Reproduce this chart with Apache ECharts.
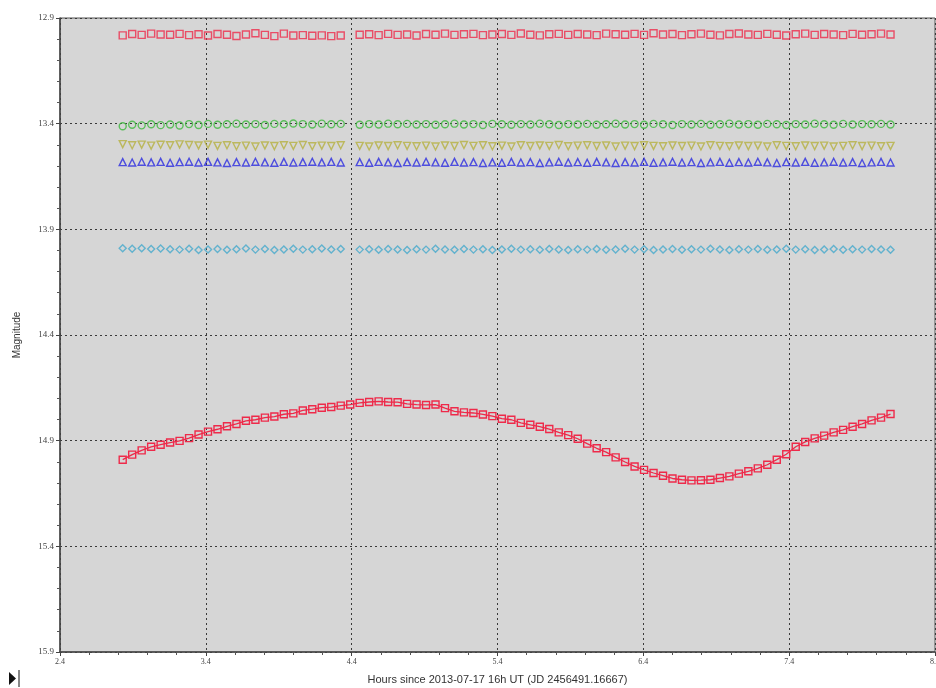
<!DOCTYPE html>
<html>
<head>
<meta charset="utf-8">
<script src="https://cdn.jsdelivr.net/npm/echarts@6/dist/echarts.min.js"></script>
<style>
  html, body { margin: 0; padding: 0; background: #ffffff; overflow: hidden; }
  #chart { width: 936px; height: 688px; }
</style>
</head>
<body>
<div id="chart"></div>
<script>
// Observation times, hours since 2013-07-17 16h UT
const hours = [
  2.83, 2.895, 2.96, 3.025, 3.09, 3.155, 3.22, 3.285, 3.35, 3.415,
  3.48, 3.545, 3.61, 3.675, 3.74, 3.805, 3.87, 3.935, 4.0, 4.065,
  4.13, 4.195, 4.26, 4.325, 4.39, 4.455, 4.52, 4.585, 4.65, 4.715,
  4.78, 4.845, 4.91, 4.975, 5.04, 5.105, 5.17, 5.235, 5.3, 5.365,
  5.43, 5.495, 5.56, 5.625, 5.69, 5.755, 5.82, 5.885, 5.95, 6.015,
  6.08, 6.145, 6.21, 6.275, 6.34, 6.405, 6.47, 6.535, 6.6, 6.665,
  6.73, 6.795, 6.86, 6.925, 6.99, 7.055, 7.12, 7.185, 7.25, 7.315,
  7.38, 7.445, 7.51, 7.575, 7.64, 7.705, 7.77, 7.835, 7.9, 7.965,
  8.03, 8.095
];

// Variable star magnitudes
const targetMag = [
  14.990, 14.966, 14.946, 14.929, 14.919, 14.909, 14.901, 14.888, 14.871, 14.857,
  14.846, 14.832, 14.821, 14.806, 14.801, 14.791, 14.786, 14.775, 14.771, 14.757,
  14.751, 14.744, 14.741, 14.734, 14.729, 14.721, 14.717, 14.714, 14.717, 14.718,
  14.726, 14.729, 14.731, 14.729, 14.746, 14.761, 14.766, 14.769, 14.776, 14.784,
  14.796, 14.801, 14.816, 14.825, 14.834, 14.845, 14.861, 14.874, 14.891, 14.914,
  14.936, 14.954, 14.979, 15.001, 15.022, 15.038, 15.053, 15.066, 15.079, 15.085,
  15.088, 15.087, 15.085, 15.077, 15.069, 15.056, 15.045, 15.031, 15.014, 14.990,
  14.964, 14.929, 14.906, 14.889, 14.876, 14.861, 14.849, 14.834, 14.821, 14.804,
  14.791, 14.774
];

// Comparison stars (null = no measurement)
const comp1Mag = [
  12.982, 12.976, 12.980, 12.974, 12.978, 12.979, 12.975, 12.981, 12.977, 12.983,
  12.976, 12.979, 12.985, 12.978, 12.972, 12.980, 12.986, 12.974, 12.983, 12.981,
  12.984, 12.982, 12.986, 12.983, null, 12.979, 12.977, 12.981, 12.975, 12.980,
  12.978, 12.983, 12.976, 12.979, 12.974, 12.980, 12.977, 12.975, 12.981, 12.978,
  12.976, 12.980, 12.973, 12.979, 12.982, 12.977, 12.975, 12.980, 12.976, 12.978,
  12.981, 12.974, 12.977, 12.979, 12.975, 12.980, 12.972, 12.978, 12.976, 12.981,
  12.977, 12.974, 12.979, 12.982, 12.976, 12.973, 12.978, 12.980, 12.975, 12.979,
  12.983, 12.977, 12.974, 12.980, 12.976, 12.978, 12.981, 12.975, 12.979, 12.977,
  12.974, 12.978
];
const comp2Mag = [
  13.412, 13.405, 13.408, 13.403, 13.407, 13.404, 13.409, 13.402, 13.406, 13.401,
  13.405, 13.403, 13.400, 13.404, 13.402, 13.406, 13.401, 13.403, 13.399, 13.402,
  13.404, 13.400, 13.403, 13.401, null, 13.405, 13.402, 13.404, 13.400, 13.403,
  13.401, 13.404, 13.402, 13.405, 13.403, 13.400, 13.404, 13.402, 13.406, 13.401,
  13.403, 13.405, 13.402, 13.404, 13.400, 13.403, 13.406, 13.402, 13.404, 13.401,
  13.405, 13.403, 13.400, 13.404, 13.402, 13.405, 13.401, 13.403, 13.406, 13.402,
  13.404, 13.401, 13.405, 13.403, 13.400, 13.404, 13.402, 13.405, 13.401, 13.403,
  13.406, 13.402, 13.404, 13.400, 13.403, 13.405, 13.401, 13.404, 13.402, 13.403,
  13.401, 13.404
];
const comp3Mag = [
  13.497, 13.502, 13.499, 13.504, 13.500, 13.502, 13.498, 13.501, 13.503, 13.499,
  13.505, 13.502, 13.507, 13.504, 13.508, 13.503, 13.506, 13.502, 13.505, 13.501,
  13.507, 13.504, 13.506, 13.502, null, 13.505, 13.508, 13.503, 13.506, 13.502,
  13.505, 13.507, 13.504, 13.508, 13.503, 13.506, 13.501, 13.505, 13.502, 13.507,
  13.504, 13.508, 13.502, 13.506, 13.503, 13.505, 13.501, 13.507, 13.504, 13.502,
  13.506, 13.503, 13.508, 13.504, 13.506, 13.502, 13.505, 13.507, 13.503, 13.506,
  13.504, 13.508, 13.502, 13.505, 13.507, 13.503, 13.506, 13.504, 13.508, 13.502,
  13.505, 13.507, 13.503, 13.506, 13.504, 13.508, 13.505, 13.502, 13.506, 13.504,
  13.507, 13.505
];
const comp4Mag = [
  13.582, 13.584, 13.580, 13.583, 13.581, 13.585, 13.582, 13.580, 13.584, 13.581,
  13.583, 13.586, 13.582, 13.584, 13.580, 13.583, 13.585, 13.581, 13.584, 13.582,
  13.580, 13.583, 13.581, 13.584, null, 13.582, 13.585, 13.581, 13.583, 13.586,
  13.582, 13.584, 13.580, 13.583, 13.585, 13.581, 13.584, 13.582, 13.586, 13.583,
  13.585, 13.581, 13.584, 13.582, 13.586, 13.583, 13.580, 13.584, 13.582, 13.585,
  13.581, 13.583, 13.586, 13.582, 13.584, 13.581, 13.585, 13.583, 13.580, 13.584,
  13.582, 13.586, 13.583, 13.581, 13.585, 13.582, 13.584, 13.580, 13.583, 13.586,
  13.582, 13.584, 13.581, 13.585, 13.583, 13.580, 13.584, 13.582, 13.586, 13.583,
  13.581, 13.584
];
const comp5Mag = [
  13.990, 13.992, 13.989, 13.993, 13.991, 13.994, 13.996, 13.992, 13.998, 13.995,
  13.993, 13.997, 13.994, 13.991, 13.996, 13.993, 13.998, 13.995, 13.992, 13.996,
  13.994, 13.991, 13.995, 13.993, null, 13.996, 13.994, 13.997, 13.993, 13.995,
  13.998, 13.994, 13.996, 13.992, 13.995, 13.997, 13.993, 13.996, 13.994, 13.998,
  13.995, 13.992, 13.996, 13.994, 13.997, 13.993, 13.995, 13.998, 13.994, 13.996,
  13.993, 13.997, 13.995, 13.992, 13.996, 13.994, 13.998, 13.995, 13.993, 13.997,
  13.994, 13.996, 13.992, 13.995, 13.998, 13.994, 13.996, 13.993, 13.997, 13.995,
  13.992, 13.996, 13.994, 13.998, 13.995, 13.993, 13.997, 13.994, 13.996, 13.993,
  13.995, 13.997
];

// Axis ranges (hours / magnitudes)
const hourMin = 2.4, hourMax = 8.4, hourStep = 1.0;
const magMin = 12.9, magMax = 15.9, magStep = 0.5;
const xTitle = 'Hours since 2013-07-17 16h UT (JD 2456491.16667)';
const yTitle = 'Magnitude';

// Axes are laid out relative to their lower bounds so ticks land on 2.4, 3.4, ... and 12.9, 13.4, ...
function toPoints(mags) {
  const out = [];
  hours.forEach((h, i) => {
    if (mags[i] != null) out.push([h - hourMin, mags[i] - magMin]);
  });
  return out;
}

function compSeries(mags, symbol, color) {
  return {
    type: 'scatter',
    data: toPoints(mags),
    symbol: symbol,
    symbolSize: 7,
    itemStyle: { color: 'rgba(0,0,0,0)', borderColor: color, borderWidth: 1.4 },
    z: 3
  };
}

const chart = echarts.init(document.getElementById('chart'), null, { renderer: 'canvas', width: 936, height: 688 });

const gridLine = { show: true, lineStyle: { color: '#3a3a3a', type: [2, 3], width: 1 } };

chart.setOption({
  backgroundColor: '#ffffff',
  animation: false,
  grid: {
    left: 60, right: 1, top: 18, bottom: 36,
    outerBoundsMode: 'none',
    show: true, backgroundColor: '#d6d6d6', borderColor: '#555', borderWidth: 1
  },
  xAxis: {
    type: 'value',
    min: 0, max: hourMax - hourMin, interval: hourStep,
    name: xTitle, nameLocation: 'middle', nameGap: 22,
    nameTextStyle: { fontFamily: 'Liberation Sans', fontSize: 11, color: '#333' },
    axisLine: { show: true, onZero: false, lineStyle: { color: '#444', width: 1.5 } },
    axisTick: { show: true, length: 4, lineStyle: { color: '#444' } },
    minorTick: { show: true, splitNumber: 5, length: 3, lineStyle: { color: '#555' } },
    axisLabel: {
      fontFamily: 'Liberation Serif', fontSize: 8, color: '#444', margin: 6,
      formatter: v => (v + hourMin).toFixed(1)
    },
    splitLine: gridLine
  },
  yAxis: {
    type: 'value',
    inverse: true,
    min: 0, max: magMax - magMin, interval: magStep,
    name: yTitle, nameLocation: 'middle', nameGap: 38, nameRotate: 90,
    nameTextStyle: { fontFamily: 'Liberation Sans', fontSize: 10, color: '#333' },
    axisLine: { show: true, onZero: false, lineStyle: { color: '#444', width: 1.5 } },
    axisTick: { show: true, length: 4, lineStyle: { color: '#444' } },
    minorTick: { show: true, splitNumber: 5, length: 3, lineStyle: { color: '#555' } },
    axisLabel: {
      fontFamily: 'Liberation Serif', fontSize: 9, color: '#444', margin: 6,
      formatter: v => (v + magMin).toFixed(1)
    },
    splitLine: gridLine
  },
  series: [
    compSeries(comp1Mag, 'rect', '#ee2a4a'),
    compSeries(comp2Mag, 'circle', '#3cb83c'),
    compSeries(comp3Mag, 'path://M0,0L10,0L5,9Z', '#b5b040'),
    compSeries(comp4Mag, 'triangle', '#2a2ae0'),
    compSeries(comp5Mag, 'diamond', '#45a9cc'),
    {
      type: 'line',
      data: toPoints(targetMag),
      symbol: 'rect',
      symbolSize: 7,
      showAllSymbol: true,
      lineStyle: { color: '#ee2a4a', width: 1.3 },
      itemStyle: { color: 'rgba(0,0,0,0)', borderColor: '#ee2a4a', borderWidth: 1.4 },
      z: 4
    }
  ],
  graphic: [
    { type: 'polygon', shape: { points: [[9, 672], [9, 685], [16, 678.5]] }, style: { fill: '#111' } },
    { type: 'line', shape: { x1: 19, y1: 670, x2: 19, y2: 687 }, style: { stroke: '#111', lineWidth: 1 } }
  ]
});
</script>
</body>
</html>
